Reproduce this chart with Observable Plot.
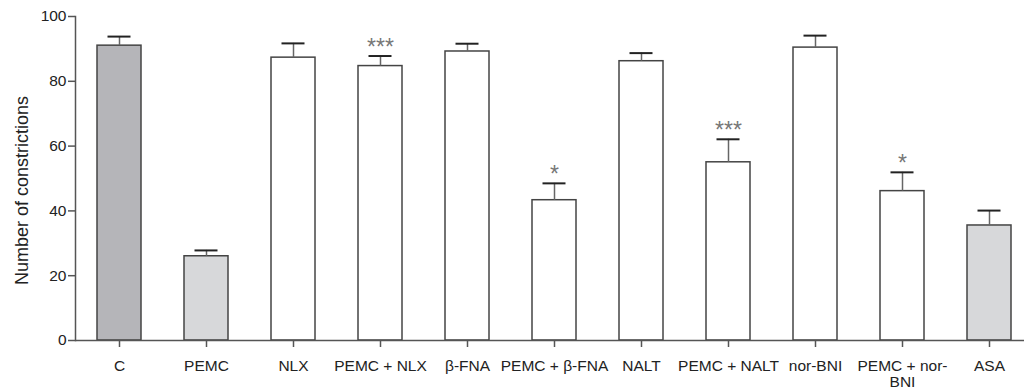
<!DOCTYPE html>
<html>
<head>
<meta charset="utf-8">
<script src="https://cdn.jsdelivr.net/npm/d3@7"></script>
<script src="https://cdn.jsdelivr.net/npm/@observablehq/plot@0.6"></script>
<style>
  html, body { margin: 0; padding: 0; background: #fff; }
  svg { display: block; }
</style>
</head>
<body>
<div id="chart"></div>
<script>
const categories = ["C", "PEMC", "NLX", "PEMC + NLX", "β-FNA", "PEMC + β-FNA", "NALT", "PEMC + NALT", "nor-BNI", "PEMC + nor-BNI", "ASA"];
const tickLabels = ["C", "PEMC", "NLX", "PEMC + NLX", "β-FNA", "PEMC + β-FNA", "NALT", "PEMC + NALT", "nor-BNI", "PEMC + nor-\nBNI", "ASA"];
const means = [91, 26, 87.3, 84.7, 89.2, 43.3, 86.2, 55.0, 90.4, 46.1, 35.5];
const errors = [2.8, 1.8, 4.4, 3.1, 2.4, 5.2, 2.5, 7.1, 3.7, 5.8, 4.6];
const stars = ["", "", "", "***", "", "*", "", "***", "", "*", ""];
const fills = ["#b5b5b9", "#d7d8da", "#ffffff", "#ffffff", "#ffffff", "#ffffff", "#ffffff", "#ffffff", "#ffffff", "#ffffff", "#d7d8da"];
const yTicks = [0, 20, 40, 60, 80, 100];
const yTitle = "Number of constrictions";

const data = categories.map((c, i) => ({cat: c, mean: means[i], err: errors[i], star: stars[i], fill: fills[i], label: tickLabels[i]}));
const labelOf = new Map(data.map(d => [d.cat, d.label]));
const font = "'Liberation Sans', Arial, Helvetica, sans-serif";

const chart = Plot.plot({
  width: 1024,
  height: 390,
  marginTop: 16,
  marginBottom: 50,
  marginLeft: 75,
  marginRight: 0,
  style: {fontFamily: font, color: "#222", background: "#fff"},
  x: {type: "band", domain: categories, range: [75, 1033], paddingInner: 0.5, paddingOuter: 0.25, align: 0.5},
  y: {domain: [0, 100], range: [340, 16]},
  marks: [
    Plot.barY(data, {x: "cat", y: "mean", fill: "fill", stroke: "#444", strokeWidth: 1.5}),
    Plot.ruleX(data, {x: "cat", y1: "mean", y2: d => d.mean + d.err, stroke: "#666", strokeWidth: 1.5}),
    Plot.tickY(data, {x: "cat", y: d => d.mean + d.err, stroke: "#222", strokeWidth: 2, inset: 10.5}),
    Plot.text(data.filter(d => d.star), {x: "cat", y: d => d.mean + d.err, text: "star", dy: -1, lineAnchor: "bottom", fill: "#777", fontSize: 23, fontFamily: font}),
    Plot.ruleY([0], {stroke: "#555", strokeWidth: 1.5}),
    Plot.frame({anchor: "left", stroke: "#555", strokeWidth: 1.5}),
    Plot.axisY({ticks: yTicks, tickSize: 7, tickPadding: 2, fontSize: 15.5, stroke: "#555", strokeWidth: 1.5, fill: "#222", label: null}),
    Plot.axisX({tickSize: 7, tickPadding: 12, fontSize: 15.5, lineHeight: 1.05, stroke: "#555", strokeWidth: 1.5, fill: "#222", tickFormat: d => labelOf.get(d), label: null}),
    Plot.text([yTitle], {frameAnchor: "left", textAnchor: "middle", rotate: -90, dx: -53, dy: 12, fontSize: 18, fill: "#222", fontFamily: font})
  ]
});
document.getElementById("chart").appendChild(chart);
</script>
</body>
</html>
